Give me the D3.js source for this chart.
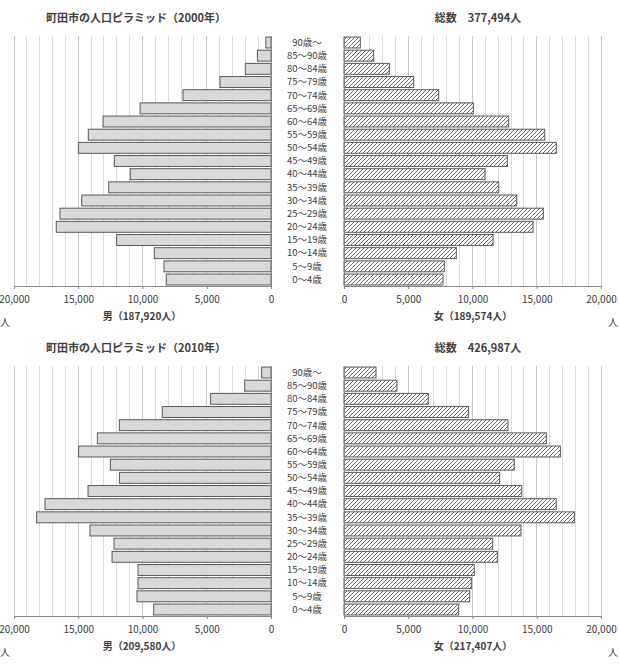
<!DOCTYPE html>
<html>
<head>
<meta charset="utf-8">
<script src="https://cdn.jsdelivr.net/npm/d3@7"></script>
<style>
  body { margin: 0; background: #fff; }
  svg text { font-family: "Noto Sans CJK JP", "Noto Sans", sans-serif; fill: #404040; }
</style>
</head>
<body>
<script>
var ageGroups = ['90歳〜', '85〜90歳', '80〜84歳', '75〜79歳', '70〜74歳', '65〜69歳', '60〜64歳',
  '55〜59歳', '50〜54歳', '45〜49歳', '40〜44歳', '35〜39歳', '30〜34歳', '25〜29歳', '20〜24歳',
  '15〜19歳', '10〜14歳', '5〜9歳', '0〜4歳'];

var male2000 = [400, 1060, 2000, 3970, 6850, 10190, 13070, 14220, 14990, 12190, 10950, 12630,
  14730, 16420, 16710, 12010, 9080, 8330, 8150];
var female2000 = [1270, 2310, 3530, 5420, 7370, 10065, 12815, 15620, 16520, 12710, 10970, 12040,
  13440, 15510, 14710, 11600, 8740, 7810, 7700];
var male2010 = [730, 2050, 4700, 8460, 11800, 13515, 14970, 12500, 11800, 14240, 17590, 18240,
  14090, 12220, 12370, 10350, 10350, 10430, 9130];
var female2010 = [2490, 4120, 6560, 9700, 12760, 15750, 16840, 13255, 12115, 13830, 16520, 17925,
  13775, 11570, 11930, 10140, 9910, 9780, 8900];

var tickValues = [0, 5000, 10000, 15000, 20000];
var gridValues = d3.range(0, 20001, 1000);

var titles = ['町田市の人口ピラミッド（2000年）', '町田市の人口ピラミッド（2010年）'];
var totals = ['総数　377,494人', '総数　426,987人'];
var maleTitles = ['男（187,920人）', '男（209,580人）'];
var femaleTitles = ['女（189,574人）', '女（217,407人）'];

var svg = d3.select('body').append('svg')
  .attr('width', 619)
  .attr('height', 664);

var defs = svg.append('defs');
var pat = defs.append('pattern')
  .attr('id', 'hatch')
  .attr('patternUnits', 'userSpaceOnUse')
  .attr('width', 4)
  .attr('height', 4);
pat.append('rect').attr('width', 4).attr('height', 4).attr('fill', '#fff');
pat.append('path')
  .attr('d', 'M-1,1 l2,-2 M0,4 l4,-4 M3,5 l2,-2')
  .attr('stroke', '#595959')
  .attr('stroke-width', 0.9);

var fmt = d3.format(',');

function drawPanel(offset, idx, maleData, femaleData) {
  var g = svg.append('g').attr('transform', 'translate(0,' + offset + ')');
  var top = 36, bottom = 286;

  var xMale = d3.scaleLinear().domain([0, 20000]).range([271, 14]);
  var xFemale = d3.scaleLinear().domain([0, 20000]).range([344, 601]);
  var y = d3.scaleBand().domain(ageGroups).range([top, bottom]).paddingInner(0.17).paddingOuter(0.08);

  // grid lines
  [xMale, xFemale].forEach(function(x) {
    g.append('g').selectAll('line')
      .data(gridValues.filter(function(v) { return v > 0; }))
      .enter().append('line')
      .attr('x1', function(d) { return x(d); })
      .attr('x2', function(d) { return x(d); })
      .attr('y1', top)
      .attr('y2', bottom)
      .attr('stroke', function(d) { return d % 5000 === 0 ? '#c8c8c8' : '#dcdcdc'; })
      .attr('stroke-width', 1)
      .attr('shape-rendering', 'crispEdges');
  });

  // bars
  g.append('g').selectAll('rect')
    .data(maleData)
    .enter().append('rect')
    .attr('x', function(d) { return xMale(d); })
    .attr('y', function(d, i) { return y(ageGroups[i]); })
    .attr('width', function(d) { return xMale(0) - xMale(d); })
    .attr('height', y.bandwidth())
    .attr('fill', '#d9d9d9')
    .attr('stroke', '#595959')
    .attr('stroke-width', 1);

  g.append('g').selectAll('rect')
    .data(femaleData)
    .enter().append('rect')
    .attr('x', xFemale(0))
    .attr('y', function(d, i) { return y(ageGroups[i]); })
    .attr('width', function(d) { return xFemale(d) - xFemale(0); })
    .attr('height', y.bandwidth())
    .attr('fill', 'url(#hatch)')
    .attr('stroke', '#595959')
    .attr('stroke-width', 1);

  // axes
  var axMale = d3.axisBottom(xMale).tickValues(tickValues).tickFormat(fmt).tickSize(3).tickPadding(7);
  var axFemale = d3.axisBottom(xFemale).tickValues(tickValues).tickFormat(fmt).tickSize(3).tickPadding(7);
  [axMale, axFemale].forEach(function(a) {
    var ag = g.append('g')
      .attr('transform', 'translate(0,' + bottom + ')')
      .call(a);
    ag.attr('font-family', null);
    ag.select('.domain').attr('stroke', '#868686');
    ag.selectAll('.tick line').attr('stroke', '#868686');
    ag.selectAll('.tick text')
      .style('font-size', '10px')
      .attr('fill', '#404040');
  });

  // vertical zero lines
  g.append('line').attr('x1', xMale(0)).attr('x2', xMale(0)).attr('y1', top).attr('y2', bottom)
    .attr('stroke', '#868686').attr('shape-rendering', 'crispEdges');
  g.append('line').attr('x1', xFemale(0)).attr('x2', xFemale(0)).attr('y1', top).attr('y2', bottom)
    .attr('stroke', '#868686').attr('shape-rendering', 'crispEdges');

  // age labels
  g.append('g').selectAll('text')
    .data(ageGroups)
    .enter().append('text')
    .attr('x', 307)
    .attr('y', function(d) { return y(d) + y.bandwidth() / 2; })
    .attr('dy', '0.35em')
    .attr('text-anchor', 'middle')
    .style('font-size', '9.5px')
    .text(function(d) { return d; });

  // titles
  g.append('text').attr('x', 136).attr('y', 22).attr('text-anchor', 'middle')
    .style('font-size', '11px').style('font-weight', 'bold').attr('fill', '#262626')
    .text(titles[idx]);
  g.append('text').attr('x', 478).attr('y', 22).attr('text-anchor', 'middle')
    .style('font-size', '11px').style('font-weight', 'bold').attr('fill', '#262626')
    .text(totals[idx]);
  g.append('text').attr('x', 142).attr('y', 320).attr('text-anchor', 'middle')
    .style('font-size', '10px').style('font-weight', 'bold')
    .text(maleTitles[idx]);
  g.append('text').attr('x', 473).attr('y', 320).attr('text-anchor', 'middle')
    .style('font-size', '10px').style('font-weight', 'bold')
    .text(femaleTitles[idx]);
  g.append('text').attr('x', 0).attr('y', 326)
    .style('font-size', '10px').text('人');
  g.append('text').attr('x', 608).attr('y', 326)
    .style('font-size', '10px').text('人');
}

drawPanel(0, 0, male2000, female2000);
drawPanel(330, 1, male2010, female2010);
</script>
</body>
</html>
